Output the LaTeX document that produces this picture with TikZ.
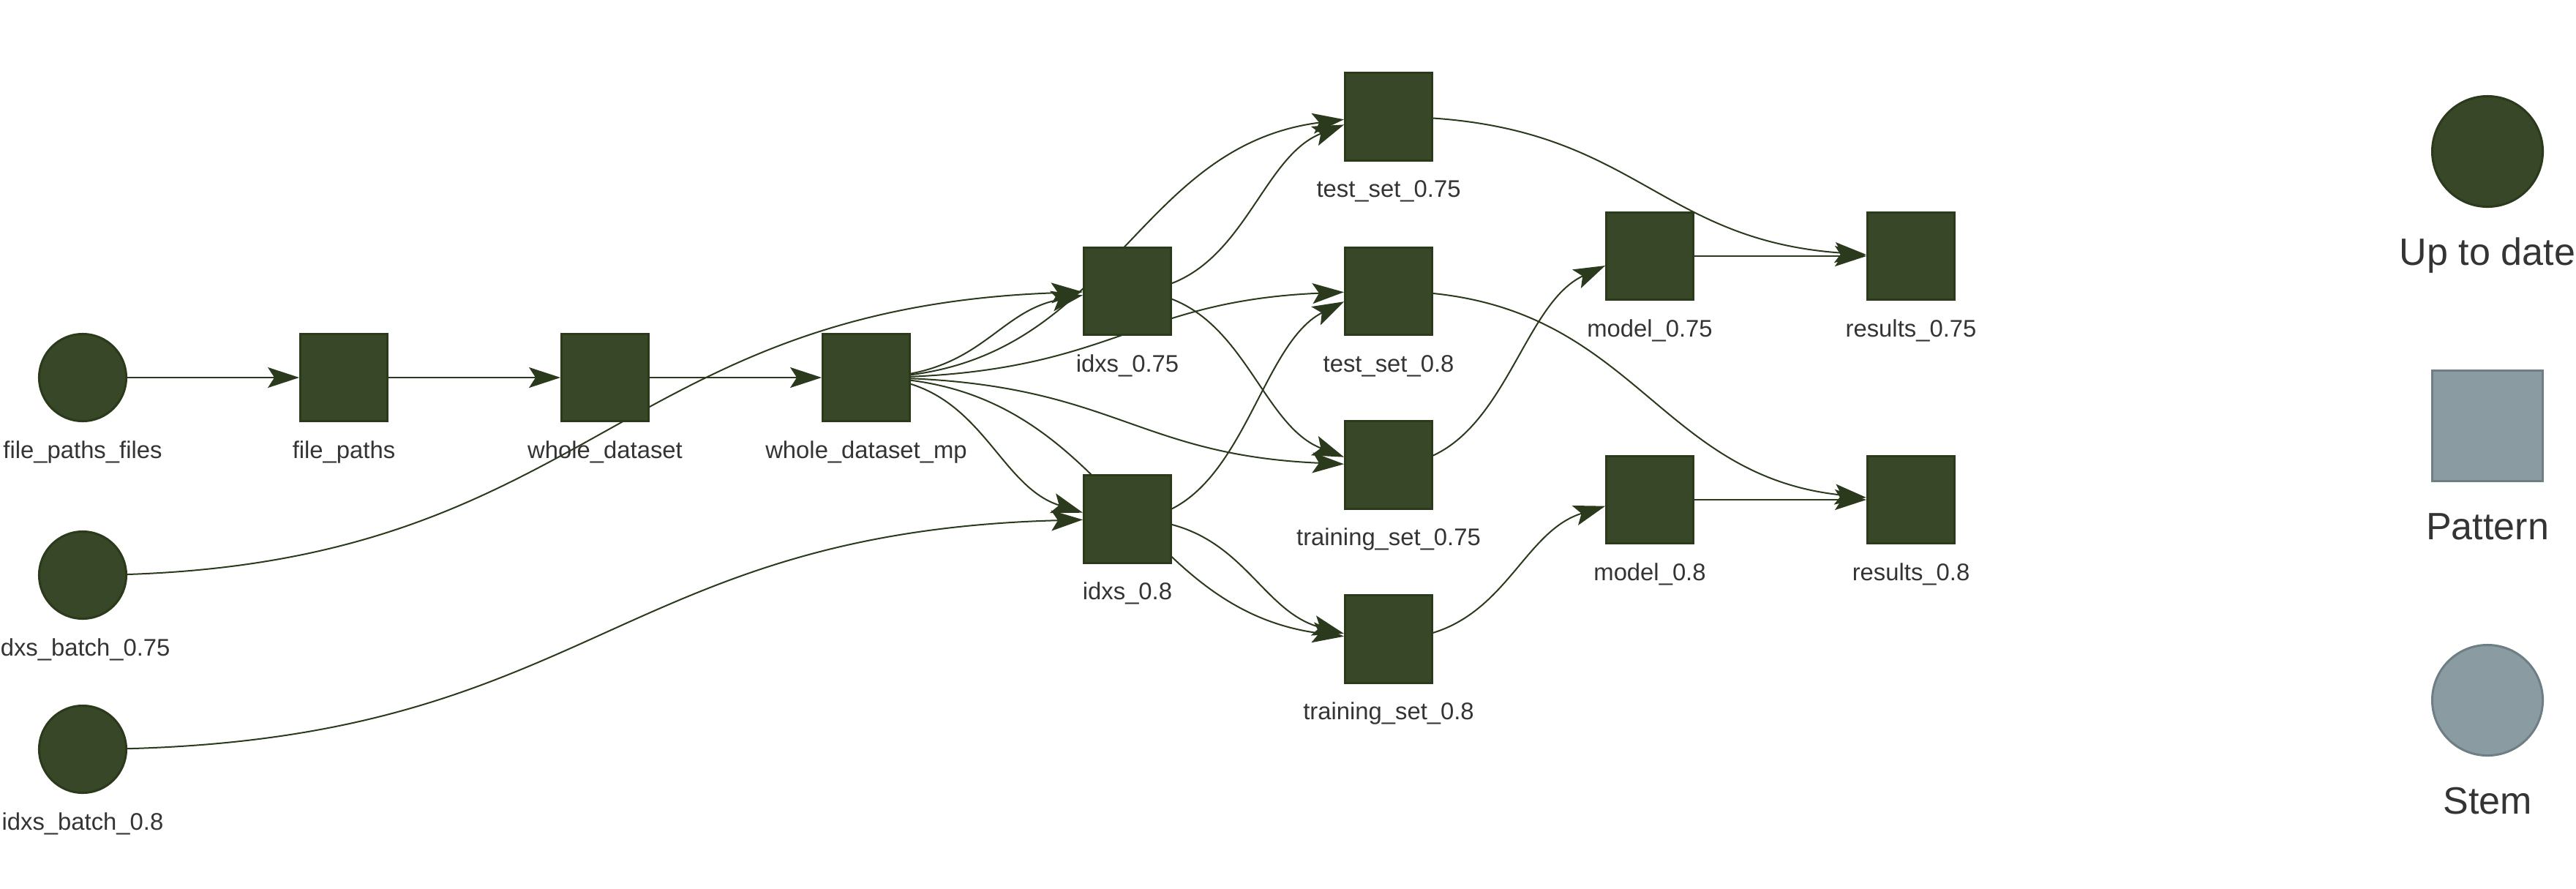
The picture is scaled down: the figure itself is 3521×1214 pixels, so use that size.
\documentclass[tikz,border=0pt]{standalone}
\usepackage{fontspec}
\setmainfont{Liberation Sans}
\usetikzlibrary{arrows.meta,calc}

\definecolor{okfill}{HTML}{374727}
\definecolor{okline}{HTML}{2A3A1B}
\definecolor{greyfill}{HTML}{8A9CA1}
\definecolor{greyline}{HTML}{6D7E85}
\definecolor{edgecol}{HTML}{2B3A1D}
\definecolor{lblcol}{HTML}{343434}

\pgfdeclarelayer{edges}
\pgfsetlayers{edges,main}

\tikzset{
	target/.style={draw=okline, fill=okfill, line width=0.03cm, minimum size=1.19cm, inner sep=0pt, outer sep=0pt},
	stemnode/.style={target, circle},
	patnode/.style={target, rectangle},
	legstem/.style={stemnode, minimum size=1.51cm},
	legpat/.style={patnode, minimum size=1.51cm, draw=greyline, fill=greyfill},
	leggrey/.style={legstem, draw=greyline, fill=greyfill},
	lbl/.style={anchor=base, yshift=-0.505cm, text=lblcol, font=\fontsize{9.33}{11}\selectfont},
	leglbl/.style={anchor=base, yshift=-0.795cm, text=lblcol, font=\fontsize{14.8}{17}\selectfont},
	dep/.style={draw=edgecol, line width=0.02cm, -{Stealth[length=0.43cm, width=0.28cm, inset=0.09cm]}}
}

% curve from centre to centre, cut where it meets the border (t = parameter there)
\newcommand{\dep}[3][0.871]{%
	\draw[dep] let \p1=(#2), \p2=(#3), \n1={#1} in
		(\p1) .. controls ({\x1+0.5*\n1*(\x2-\x1)},\y1)
		and ({\x1+(\n1-0.5*\n1*\n1)*(\x2-\x1)},{\y1+\n1*\n1*(\y2-\y1)})
		.. ({\x1+(1.5*\n1-1.5*\n1*\n1+\n1*\n1*\n1)*(\x2-\x1)},{\y1+(3*\n1*\n1-2*\n1*\n1*\n1)*(\y2-\y1)});}

\begin{document}
\begin{tikzpicture}[x=0.01cm, y=-0.01cm]
	\useasboundingbox (0,0) rectangle (3521,1214);
	% stems
	\node[stemnode, label={[lbl]below:file\_paths\_files}] (fpf) at (113,516) {};
	\node[stemnode, label={[lbl]below:idxs\_batch\_0.75}] (ib75) at (113,786) {};
	\node[stemnode, label={[lbl]below:idxs\_batch\_0.8}] (ib8) at (113,1024) {};
	% patterns
	\node[patnode, label={[lbl]below:file\_paths}] (fp) at (470,516) {};
	\node[patnode, label={[lbl]below:whole\_dataset}] (wd) at (827,516) {};
	\node[patnode, label={[lbl]below:whole\_dataset\_mp}] (wdmp) at (1184,516) {};
	\node[patnode, label={[lbl]below:idxs\_0.75}] (i75) at (1541,398) {};
	\node[patnode, label={[lbl]below:idxs\_0.8}] (i8) at (1541,709.5) {};
	\node[patnode, label={[lbl]below:test\_set\_0.75}] (ts75) at (1898,159.5) {};
	\node[patnode, label={[lbl]below:test\_set\_0.8}] (ts8) at (1898,398) {};
	\node[patnode, label={[lbl]below:training\_set\_0.75}] (tr75) at (1898,635.5) {};
	\node[patnode, label={[lbl]below:training\_set\_0.8}] (tr8) at (1898,873.5) {};
	\node[patnode, label={[lbl]below:model\_0.75}] (m75) at (2255,350) {};
	\node[patnode, label={[lbl]below:model\_0.8}] (m8) at (2255,683) {};
	\node[patnode, label={[lbl]below:results\_0.75}] (r75) at (2612,350) {};
	\node[patnode, label={[lbl]below:results\_0.8}] (r8) at (2612,683) {};
	% legend
	\node[legstem, label={[leglbl]below:Up to date}] (uptodate) at (3400,207) {};
	\node[legpat, label={[leglbl]below:Pattern}] (pattern) at (3400,582) {};
	\node[leggrey, label={[leglbl]below:Stem}] (stem) at (3400,957) {};
	% dependencies
	\begin{pgfonlayer}{edges}
		\dep{fpf}{fp}
		\dep{fp}{wd}
		\dep{wd}{wdmp}
		\dep[0.9707]{ib75}{i75}
		\dep[0.9707]{ib8}{i8}
		\dep{wdmp}{i75}
		\dep{wdmp}{i8}
		\dep[0.9395]{wdmp}{ts75}
		\dep[0.9395]{wdmp}{ts8}
		\dep[0.9395]{wdmp}{tr75}
		\dep[0.9395]{wdmp}{tr8}
		\dep{i75}{ts75}
		\dep{i75}{tr75}
		\dep{i8}{ts8}
		\dep{i8}{tr8}
		\dep[0.9395]{ts75}{r75}
		\dep[0.9395]{ts8}{r8}
		\dep{tr75}{m75}
		\dep{tr8}{m8}
		\dep{m75}{r75}
		\dep{m8}{r8}
	\end{pgfonlayer}
\end{tikzpicture}
\end{document}
